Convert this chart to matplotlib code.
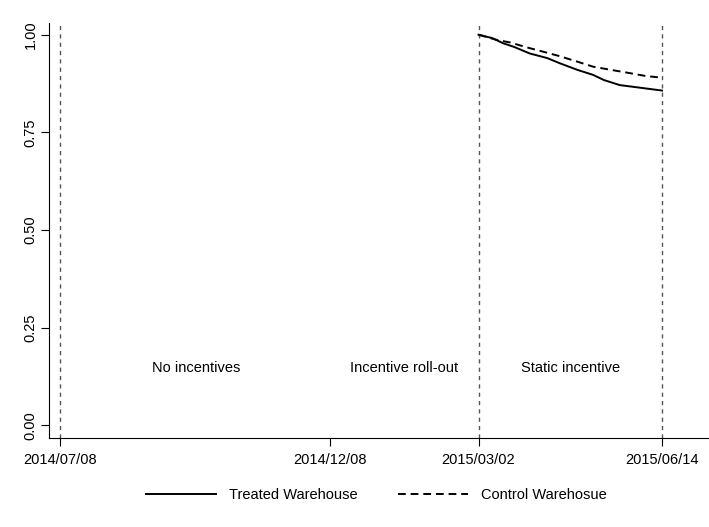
import pandas as pd
import matplotlib
matplotlib.use('Agg')
import matplotlib.pyplot as plt

plt.rcParams['font.family'] = ['Liberation Sans', 'DejaVu Sans']

# Period boundaries (vertical reference lines) and x tick labels
tick_dates = ['2014-07-08', '2014-12-08', '2015-03-02', '2015-06-14']
tick_labels = ['2014/07/08', '2014/12/08', '2015/03/02', '2015/06/14']
vline_dates = ['2014-07-08', '2015-03-02', '2015-06-14']

# Treated warehouse survival curve
treated_dates = ['2015-03-02', '2015-03-10', '2015-03-16', '2015-03-22', '2015-03-31',
                 '2015-04-10', '2015-04-17', '2015-04-27', '2015-05-06', '2015-05-12',
                 '2015-05-21', '2015-06-02', '2015-06-14']
treated_vals = [1.0, 0.991, 0.978, 0.969, 0.952, 0.940, 0.927, 0.910, 0.897, 0.884,
                0.871, 0.864, 0.857]

# Control warehouse survival curve
control_dates = ['2015-03-02', '2015-03-12', '2015-03-20', '2015-03-29', '2015-04-08',
                 '2015-04-17', '2015-04-27', '2015-05-06', '2015-05-16', '2015-05-25',
                 '2015-06-05', '2015-06-14']
control_vals = [1.0, 0.987, 0.980, 0.968, 0.956, 0.945, 0.931, 0.918, 0.910, 0.903,
                0.894, 0.890]

# Period annotations
period_labels = ['No incentives', 'Incentive roll-out', 'Static incentive']
period_dates = ['2014-09-23', '2015-01-19', '2015-04-23']
period_y = 0.147

fig = plt.figure(figsize=(7.09, 5.27), dpi=100)
ax = fig.add_axes([0.0695, 0.1689, 0.9305, 0.7875])

start = pd.Timestamp('2014-07-08')
ax.set_xlim(start - pd.Timedelta(days=6.2), start + pd.Timedelta(days=367.6))
ax.set_ylim(-0.0325, 1.03)

for d in vline_dates:
    ax.axvline(pd.Timestamp(d), color='#555555', lw=1, ls=(0, (3, 3)))

ax.plot(pd.to_datetime(treated_dates), treated_vals, color='black', lw=1.4,
        label='Treated Warehouse')
ax.plot(pd.to_datetime(control_dates), control_vals, color='black', lw=1.4,
        ls=(0, (4, 2.5)), label='Control Warehosue')

for lab, d in zip(period_labels, period_dates):
    ax.text(pd.Timestamp(d), period_y, lab, ha='center', va='center', fontsize=10.5)

ax.set_xticks(pd.to_datetime(tick_dates))
ax.set_xticklabels(tick_labels)
ax.set_yticks([0, 0.25, 0.5, 0.75, 1.0])
ax.set_yticklabels(['0.00', '0.25', '0.50', '0.75', '1.00'], rotation=90, va='center')
ax.tick_params(labelsize=10.5, length=5.5, width=0.8)
ax.tick_params(axis='x', pad=5)
ax.tick_params(axis='y', pad=3)
ax.spines['top'].set_visible(False)
ax.spines['right'].set_visible(False)

fig.legend(loc='center', bbox_to_anchor=(0.531, 0.0607), ncol=2, frameon=False,
           fontsize=10.5, handlelength=4.8, handletextpad=0.85, columnspacing=2.8)

plt.savefig('out.png', dpi=100)
